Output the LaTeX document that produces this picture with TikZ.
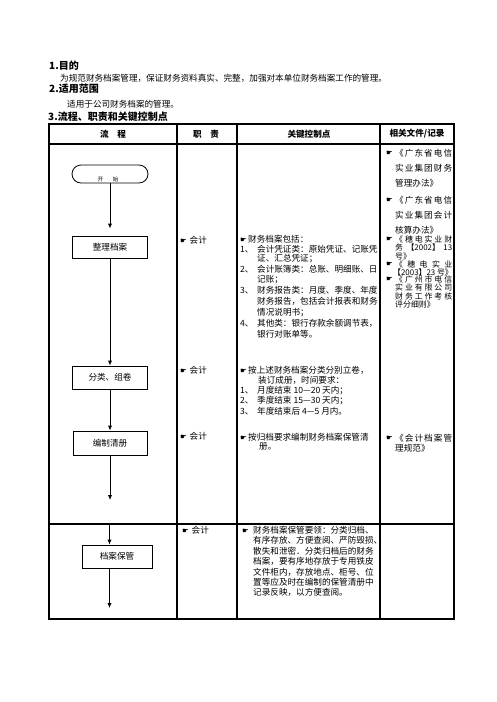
\documentclass[tikz,border=0pt]{standalone}
\usepackage{fontspec}
\setmainfont{Noto Sans CJK SC}
\newfontfamily\symf{DejaVu Sans}
\usetikzlibrary{arrows.meta}
\def\spreadrest#1{\ifx#1\relax\else\hfill#1\expandafter\spreadrest\fi}
\def\spreadfirst#1{#1\spreadrest}
\newcommand\spreadto[2]{\hbox to #1{\spreadfirst#2\relax}}
\newcommand\hand{{\symf\fontsize{7.5}{7.5}\selectfont ☛}}
\newcommand\fs{\fontsize{8.6}{10}\selectfont}
\newcommand\fsn{\fontsize{7.9}{9}\selectfont}
\newcommand\num[1]{\makebox[17pt][l]{#1}}
\begin{document}
\begin{tikzpicture}[x=1pt,y=-1pt,
  tbl/.style={line width=1.1pt},
  flowbox/.style={draw, line width=0.8pt, inner sep=0pt, font=\fs},
  pill/.style={draw, line width=0.8pt, rounded corners=9pt, minimum width=76pt, minimum height=18pt, inner sep=0pt},
  arr/.style={line width=0.8pt, -{Latex[length=5pt,width=4.2pt]}},
  txt/.style={anchor=west, inner sep=0pt, font=\fs},
  txtn/.style={anchor=west, inner sep=0pt, font=\fsn},
  ttl/.style={anchor=west, inner sep=0pt, font=\bfseries\fontsize{10}{12}\selectfont},
  hdr/.style={inner sep=0pt, font=\bfseries\fs},
  hnd/.style={anchor=west, inner sep=0pt}]
\useasboundingbox (0,0) rectangle (496,702);
\fill[white] (0,0) rectangle (496,702);
% titles
\node[ttl] (h1) at (49,66) {1.目的};
\node[txt] (p1) at (60,78) {为规范财务档案管理，保证财务资料真实、完整，加强对本单位财务档案工作的管理。};
\node[ttl] (h2) at (49,89) {2.适用范围};
\node[txt] (p2) at (67,104) {适用于公司财务档案的管理。};
\node[ttl] (h3) at (48,117) {3.流程、职责和关键控制点};
% table
\draw[tbl] (49,124) rectangle (454,619);
\draw[tbl] (49,144) -- (454,144);
\draw[tbl] (49,524) -- (454,524);
\draw[tbl] (177,124) -- (177,619);
\draw[tbl] (237,124) -- (237,619);
\draw[tbl] (380,124) -- (380,619);
\node[hdr] (c1) at (113,134) {流　程};
\node[hdr] (c2h) at (206,134) {职　责};
\node[hdr] (c3) at (309,134) {关键控制点};
\node[hdr] (c4) at (417,134) {相关文件/记录};
% flow
\node[pill] (start) at (110,174) {};
\node[inner sep=0pt, font=\fontsize{5.5}{6}\selectfont] (starttext) at (108,179.5) {开\hspace{10pt}始};
\node[flowbox, minimum width=75pt, minimum height=22pt] (b1) at (110,247) {整理档案};
\node[flowbox, minimum width=75pt, minimum height=23pt] (b2) at (110,377.5) {分类、组卷};
\node[flowbox, minimum width=74pt, minimum height=24pt] (b3) at (110,443) {编制清册};
\node[flowbox, minimum width=70pt, minimum height=23pt] (b4) at (117,556.5) {档案保管};
\coordinate (e1) at (110,500);
\coordinate (s2) at (109.5,524);
\coordinate (e2) at (109.5,608);
\draw[arr, shorten >=7pt] (start) -- (b1);
\draw[arr] (b1) -- (b2);
\draw[arr] (b2) -- (b3);
\draw[arr] (b3) -- (e1);
\draw[arr] (s2) -- (s2 |- b4.north);
\draw[arr] (s2 |- b4.south) -- (e2);
% duty column
\node[txt] (d1) at (180,240) {\makebox[9.5pt][l]{\hand}会计};
\node[txt] (d2) at (180,370) {\makebox[9.5pt][l]{\hand}会计};
\node[txt] (d3) at (180,436) {\makebox[9.5pt][l]{\hand}会计};
\node[txt] (d4) at (182,530) {\makebox[9.5pt][l]{\hand}会计};
% key control column
\node[txt] (k1) at (240,239) {\makebox[8pt][l]{\hand}财务档案包括：};
\node[txt] (k2) at (240,249) {\num{1、}会计凭证类：原始凭证、记账凭};
\node[txt] (k3) at (257,259) {证、汇总凭证；};
\node[txt] (k4) at (240,269.5) {\num{2、}会计账簿类：总账、明细账、日};
\node[txt] (k5) at (257,279.5) {记账；};
\node[txt] (k6) at (240,290.5) {\num{3、}财务报告类：月度、季度、年度};
\node[txt] (k7) at (257,301.5) {财务报告，包括会计报表和财务};
\node[txt] (k8) at (257,312.5) {情况说明书；};
\node[txt] (k9) at (240,323.5) {\num{4、}其他类：银行存款余额调节表，};
\node[txt] (k10) at (257,334) {银行对账单等。};
\node[txt] (m1) at (240,370) {\makebox[8pt][l]{\hand}按上述财务档案分类分别立卷，};
\node[txt] (m2) at (258,380) {装订成册，时间要求：};
\node[txt] (m3) at (240,390.5) {\num{1、}月度结束 10—20 天内；};
\node[txt] (m4) at (240,401) {\num{2、}季度结束 15—30 天内；};
\node[txt] (m5) at (240,411.5) {\num{3、}年度结束后 4—5 月内。};
\node[txt] (n1) at (240,437) {\makebox[8pt][l]{\hand}按归档要求编制财务档案保管清};
\node[txt] (n2) at (259,447) {册。};
\node[txt] (q1) at (242,530) {\makebox[11pt][l]{\hand}财务档案保管要领：分类归档、};
\node[txt] (q2) at (253,540.5) {有序存放、方便查阅、严防毁损、};
\node[txt] (q3) at (253,551) {散失和泄密．分类归档后的财务};
\node[txt] (q4) at (253,561.5) {档案，要有序地存放于专用铁皮};
\node[txt] (q5) at (253,572) {文件柜内，存放地点、柜号、位};
\node[txt] (q6) at (253,582) {置等应及时在编制的保管清册中};
\node[txt] (q7) at (253,592) {记录反映，以方便查阅。};
% related documents column
\node[hnd] (r1h) at (386,153) {\hand};
\node[txt] (r1) at (395,153) {\spreadto{57pt}{《广东省电信}};
\node[txt] (r2) at (395,168.5) {\spreadto{57pt}{实业集团财务}};
\node[txt] (r3) at (395,183.5) {管理办法》};
\node[hnd] (r4h) at (386,200) {\hand};
\node[txt] (r4) at (395,200) {\spreadto{57pt}{《广东省电信}};
\node[txt] (r5) at (395,215) {\spreadto{57pt}{实业集团会计}};
\node[txt] (r6) at (395,230) {核算办法》};
\node[hnd] (r7h) at (386,239.5) {\hand};
\node[txtn] (r7) at (395,239.5) {\spreadto{57pt}{《穗电实业财}};
\node[txtn] (r8) at (395,247.5) {\hbox to 57pt{务\hfill【2002】\hfill 13}};
\node[txtn] (r9) at (395,256) {号》};
\node[hnd] (r10h) at (386,264) {\hand};
\node[txtn] (r10) at (395,264) {\spreadto{57pt}{《穗电实业}};
\node[txtn] (r11) at (393,272) {【2003】23 号》};
\node[hnd] (r12h) at (386,279.5) {\hand};
\node[txtn] (r12) at (395,279.5) {\spreadto{57pt}{《广州市电信}};
\node[txtn] (r13) at (395,287.5) {\spreadto{57pt}{实业有限公司}};
\node[txtn] (r14) at (395,296) {\spreadto{57pt}{财务工作考核}};
\node[txtn] (r15) at (395,304.5) {评分细则》};
\node[hnd] (r16h) at (386,438) {\hand};
\node[txt] (r16) at (395,438) {\spreadto{57pt}{《会计档案管}};
\node[txt] (r17) at (395,448) {理规范》};
\end{tikzpicture}
\end{document}
